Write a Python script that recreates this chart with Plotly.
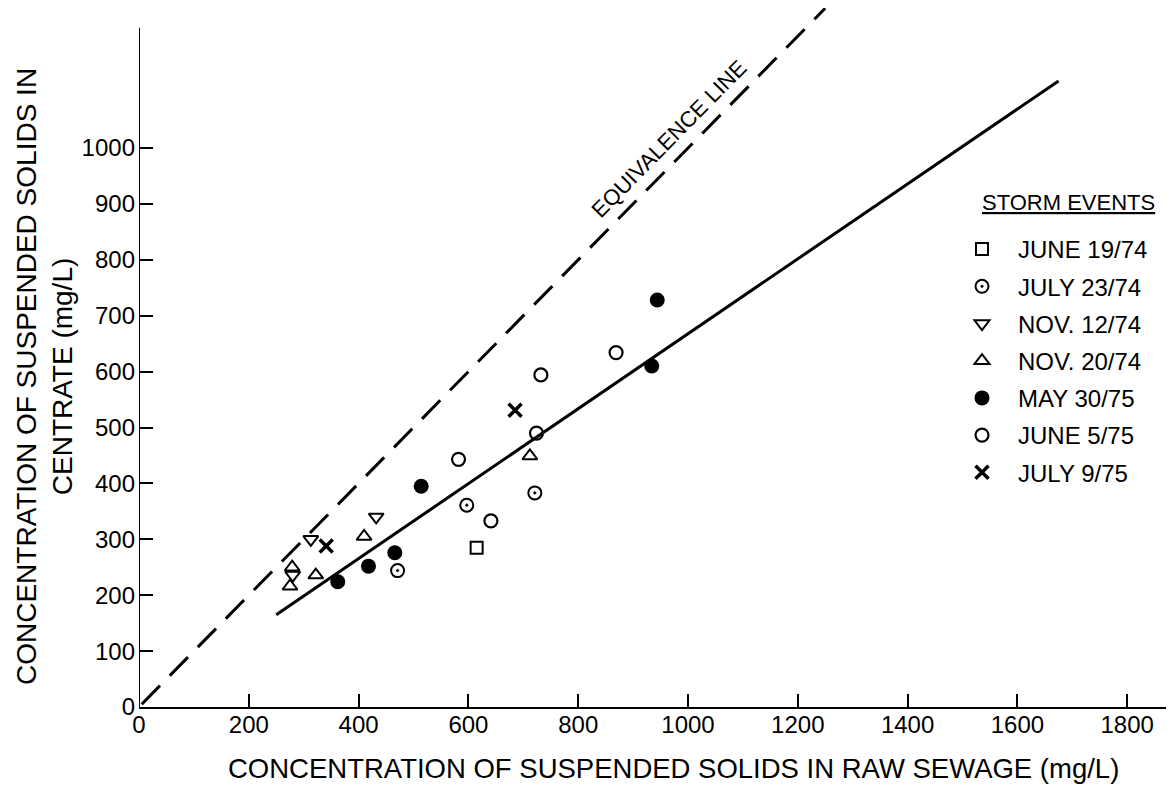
import plotly.graph_objects as go

# ---- data ----
june19_74_x = [615]
june19_74_y = [285]

july23_74_x = [471, 597, 721]
july23_74_y = [244, 361, 383]

nov12_74_x = [280, 313, 432]
nov12_74_y = [236, 300, 340]

nov20_74_x = [275, 279, 322, 410, 712]
nov20_74_y = [216, 250, 236, 305, 449]

may30_75_x = [362, 418, 466, 514, 934, 944]
may30_75_y = [224, 252, 276, 395, 610, 728]

june5_75_x = [582, 641, 724, 732, 869]
june5_75_y = [443, 333, 490, 594, 634]

july9_75_x = [341, 685]
july9_75_y = [288, 531]

fit_x = [250, 1675]
fit_y = [165, 1120]

equiv_x = [5, 1250]
equiv_y = [5, 1250]

x_ticks = [0, 200, 400, 600, 800, 1000, 1200, 1400, 1600, 1800]
y_ticks = [0, 100, 200, 300, 400, 500, 600, 700, 800, 900, 1000]
y_axis_top = 1215

x_title = "CONCENTRATION OF SUSPENDED SOLIDS IN RAW SEWAGE (mg/L)"
y_title = "CONCENTRATION OF SUSPENDED SOLIDS IN<br>CENTRATE (mg/L)"
legend_title = "STORM EVENTS"
equiv_label = "EQUIVALENCE LINE"

FONT = "Liberation Sans"

series = [
    ("JUNE 19/74", june19_74_x, june19_74_y, "square-open", 12, 2),
    ("JULY 23/74", july23_74_x, july23_74_y, "circle-open-dot", 13, 2),
    ("NOV. 12/74", nov12_74_x, nov12_74_y, "triangle-down-open", 13, 2),
    ("NOV. 20/74", nov20_74_x, nov20_74_y, "triangle-up-open", 13, 2),
    ("MAY 30/75", may30_75_x, may30_75_y, "circle", 15, 0),
    ("JUNE 5/75", june5_75_x, june5_75_y, "circle-open", 13, 2.2),
    ("JULY 9/75", july9_75_x, july9_75_y, "x-thin-open", 13, 3.5),
]

# page is shown with the browser's default 8px body margin
W, H = 1166, 779
ML, MR, MT, MB = 131, 0, 0, 80
PAGE_L, PAGE_T = 8 + ML, 8 + MT
PW, PH = W - ML - MR, H - MT - MB


def paper_x(px):
    return (px - PAGE_L) / PW


def paper_y(py):
    return 1 - (py - PAGE_T) / PH


fig = go.Figure()

fig.add_trace(go.Scatter(
    x=equiv_x, y=equiv_y, mode="lines", showlegend=False, hoverinfo="skip",
    line=dict(color="black", width=3, dash="26px,14px"),
))
fig.add_trace(go.Scatter(
    x=fit_x, y=fit_y, mode="lines", showlegend=False, hoverinfo="skip",
    line=dict(color="black", width=3),
))

for i, (name, xs, ys, sym, size, lw) in enumerate(series):
    fig.add_trace(go.Scatter(
        x=xs, y=ys, mode="markers", name=name, legendgroup=f"g{i}",
        marker=dict(symbol=sym, size=size, color="black",
                    line=dict(color="black", width=lw)),
    ))

# y-axis spine (stops below the top of the plotting area, as in the original)
fig.add_shape(type="line", xref="x", yref="y", x0=0, x1=0, y0=0, y1=y_axis_top,
              line=dict(color="black", width=2), layer="above")

fig.add_annotation(
    x=966, y=1017, xref="x", yref="y", text=equiv_label,
    showarrow=False, textangle=-45.5,
    font=dict(family=FONT, size=22, color="black"),
)

# legend heading
fig.add_annotation(
    x=paper_x(980), y=paper_y(203), xref="paper", yref="paper",
    text=f"<u>{legend_title}</u>",
    showarrow=False, xanchor="left", yanchor="middle",
    font=dict(family=FONT, size=22, color="black"),
)

# axis titles
fig.add_annotation(
    x=paper_x(673), y=paper_y(786), xref="paper", yref="paper",
    text=x_title, showarrow=False, xanchor="center", yanchor="bottom",
    font=dict(family=FONT, size=27.5, color="black"),
)
fig.add_annotation(
    x=paper_x(44), y=paper_y(377), xref="paper", yref="paper",
    text=y_title, showarrow=False, xanchor="center", yanchor="middle",
    textangle=-90,
    font=dict(family=FONT, size=28, color="black"),
)

fig.update_layout(
    width=W, height=H,
    paper_bgcolor="white", plot_bgcolor="white",
    margin=dict(l=ML, r=MR, t=MT, b=MB, autoexpand=False),
    font=dict(family=FONT, color="black", size=22),
    legend=dict(
        x=paper_x(946), y=paper_y(227), xanchor="left", yanchor="top",
        bgcolor="rgba(0,0,0,0)",
        font=dict(family=FONT, size=24, color="black"),
        tracegroupgap=3,
        itemwidth=62,
    ),
    xaxis=dict(
        range=[0, PW / 0.549], tickvals=x_ticks, ticks="inside", ticklen=13,
        tickwidth=2, tickcolor="black", showline=True, linecolor="black",
        linewidth=2, showgrid=False, zeroline=False, automargin=False,
        ticklabelstandoff=-5,
        tickfont=dict(family=FONT, size=24, color="black"),
    ),
    yaxis=dict(
        range=[0, PH / 0.559], tickvals=y_ticks, ticks="inside", ticklen=14,
        tickwidth=2, tickcolor="black", showline=False,
        showgrid=False, zeroline=False, automargin=False,
        ticklabelstandoff=3,
        tickfont=dict(family=FONT, size=24, color="black"),
    ),
)

fig.write_html("out.html")
